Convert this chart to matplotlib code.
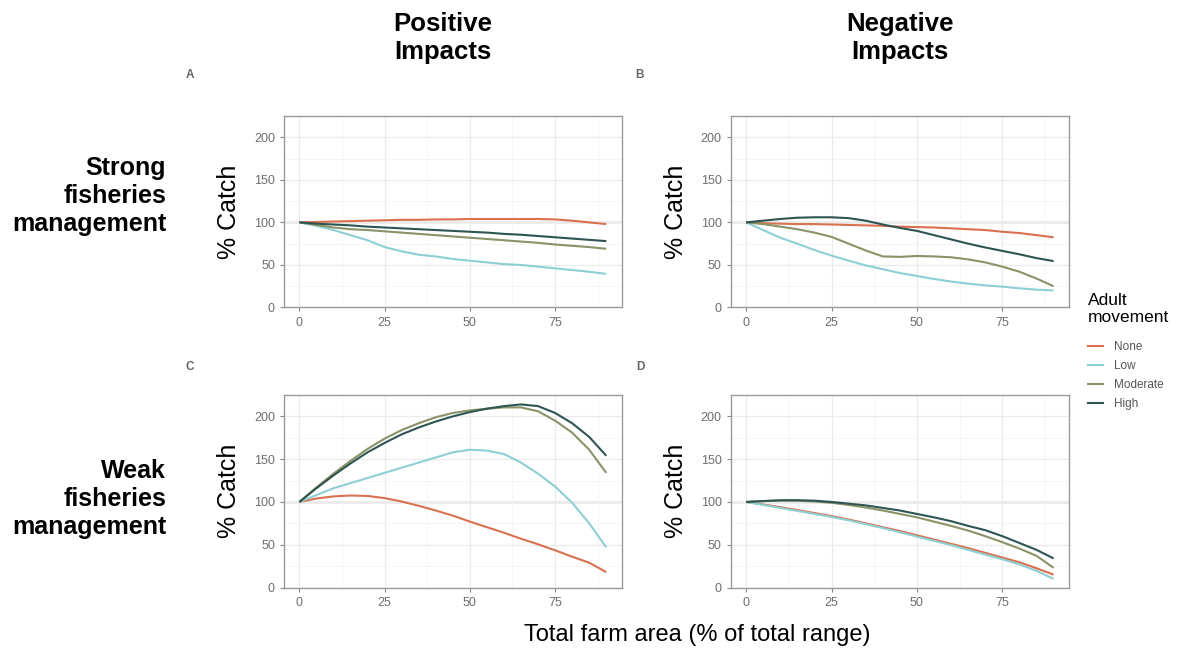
import numpy as np
import matplotlib
matplotlib.use('Agg')
import matplotlib.pyplot as plt
from matplotlib.lines import Line2D

plt.rcParams['font.family'] = ['Liberation Sans', 'DejaVu Sans']

# farm area (% of total range)
farm_area = [0, 5, 10, 15, 20, 25, 30, 35, 40, 45, 50, 55, 60, 65, 70, 75, 80, 85, 90]

movement = ['None', 'Low', 'Moderate', 'High']
colors = ['#D9704F', '#8ECFD4', '#8A9268', '#2E5551']

# A: strong management, positive impacts
a_none = [100, 100.5, 101, 101.5, 102, 102.5, 103, 103, 103.5, 103.5, 104, 104, 104, 104, 104, 103.5, 102, 100, 98]
a_low = [100, 96, 91, 85, 79, 71, 66, 62, 60, 57, 55, 53, 51, 50, 48, 46, 44, 42, 39.5]
a_mod = [100, 97, 94, 92, 91, 89.5, 88, 86.5, 85, 83.5, 82, 80.5, 79, 77.5, 76, 74, 72.5, 71, 69]
a_high = [100, 98.5, 97.5, 96.5, 95, 94, 93, 92, 91, 90, 89, 88, 86.5, 85.5, 84, 82.5, 81, 79.5, 78]

# B: strong management, negative impacts
b_none = [100, 99, 98.5, 98, 98, 97.5, 97, 96.5, 96, 95, 94.5, 94, 93, 92, 91, 89, 87.5, 85, 82.5]
b_low = [100, 91, 82, 75, 67.5, 61, 55, 49.5, 45, 40.5, 37, 33.5, 30.5, 28, 26, 24.5, 22.5, 21, 20]
b_mod = [100, 98, 95, 92, 88, 83, 75, 67, 60, 59.5, 60.5, 60, 59, 56.5, 53, 48, 42, 34, 25]
b_high = [100, 102, 104, 105.5, 106, 106, 105, 102, 97.5, 93.5, 90, 85, 80, 75, 70.5, 66.5, 62.5, 58, 54.5]

# C: weak management, positive impacts
c_none = [100, 104, 106.5, 107.5, 107, 104.5, 100.5, 95.5, 90, 84, 77, 70.5, 64, 57, 50.5, 43.5, 36, 29, 18]
c_low = [100, 108, 116, 122, 128, 134, 140, 146, 152, 158, 161, 160, 156, 146, 133, 118, 99, 75, 47]
c_mod = [100, 117, 133, 148, 162, 174, 184, 192, 199, 204, 207, 209, 210.5, 210.5, 206, 195, 181, 161, 134]
c_high = [100, 116, 131, 145, 158, 169, 179, 187, 194, 200, 205, 209, 212, 214, 212, 204, 192, 176, 154]

# D: weak management, negative impacts
d_none = [100, 97, 94, 90.5, 87, 83.5, 79.5, 75, 70.5, 66, 61, 56, 51, 46, 40.5, 35, 29.5, 22.5, 15]
d_low = [100, 96.5, 93, 89.5, 86, 82.5, 78.5, 74, 69.5, 64.5, 59.5, 54.5, 49.5, 44, 38.5, 33, 27, 19.5, 10]
d_mod = [100, 101, 101.5, 101.5, 100.5, 99, 96.5, 93.5, 90, 86, 82, 77, 72, 66.5, 60, 53, 45.5, 37, 23]
d_high = [100, 101, 102, 102, 101.5, 100, 98, 96, 93, 90, 86, 82, 77.5, 72, 67, 60, 52, 44, 34]

panels = {
    'A': [a_none, a_low, a_mod, a_high],
    'B': [b_none, b_low, b_mod, b_high],
    'C': [c_none, c_low, c_mod, c_high],
    'D': [d_none, d_low, d_mod, d_high],
}

W, H = 1181, 655
fig = plt.figure(figsize=(W / 100, H / 100), dpi=100)

def px(x, y):
    return x / W, 1 - y / H

# panel boxes in pixels: left, top, right, bottom
boxes = {
    'A': (284, 116, 621.6, 307.5),
    'B': (730.7, 116, 1069, 307.5),
    'C': (284, 395, 621.6, 587.5),
    'D': (730.7, 395, 1069, 587.5),
}

for key, series in panels.items():
    l, t, r, b = boxes[key]
    ax = fig.add_axes([l / W, 1 - b / H, (r - l) / W, (b - t) / H])
    ax.set_xlim(-4.5, 94.5)
    ax.set_ylim(0, 225)
    ax.set_xticks([0, 25, 50, 75])
    ax.set_yticks([0, 50, 100, 150, 200])
    ax.set_xticks([12.5, 37.5, 62.5, 87.5], minor=True)
    ax.set_yticks([25, 75, 125, 175, 225], minor=True)
    ax.grid(True, which='major', color='#EBEBEB', lw=0.9, zorder=0)
    ax.grid(True, which='minor', color='#F4F4F4', lw=0.6, zorder=0)
    ax.tick_params(which='major', length=3, color='#888888', width=0.8,
                   labelsize=9, labelcolor='#6E6E6E', pad=3.5)
    ax.tick_params(which='minor', length=0)
    for s in ax.spines.values():
        s.set_color('#9A9A9A')
        s.set_linewidth(1.0)
    ax.axhline(100, color='#A8A8A8', lw=1.0, zorder=1)
    for vals, c in zip(series, colors):
        ax.plot(farm_area, vals, color=c, lw=1.5, zorder=3, solid_capstyle='butt')
    ax.set_ylabel('% Catch', fontsize=18, labelpad=9)

# panel letters
for key, (x, y) in {'A': (190, 75), 'B': (640, 75), 'C': (190, 367), 'D': (640, 367)}.items():
    fig.text(*px(x, y), key, fontsize=8.5, fontweight='bold', color='#666666',
             ha='center', va='center')

# column headers
fig.text(*px(443, 38), 'Positive\nImpacts', fontsize=18.5, fontweight='bold',
         ha='center', va='center', linespacing=1.22)
fig.text(*px(900, 38), 'Negative\nImpacts', fontsize=18.5, fontweight='bold',
         ha='center', va='center', linespacing=1.22)

# row headers
fig.text(*px(166, 196), 'Strong\nfisheries\nmanagement', fontsize=18, fontweight='bold',
         ha='right', va='center', linespacing=1.22)
fig.text(*px(166, 499), 'Weak\nfisheries\nmanagement', fontsize=18, fontweight='bold',
         ha='right', va='center', linespacing=1.22)

# x label
fig.text(*px(697, 635), 'Total farm area (% of total range)', fontsize=17,
         ha='center', va='center')

# legend (title drawn separately for spacing control)
fig.text(*px(1088, 309), 'Adult\nmovement', fontsize=12.5, ha='left', va='center',
         linespacing=1.15)
handles = [Line2D([0], [0], color=c, lw=1.5) for c in colors]
leg = fig.legend(handles, movement, loc='upper left', bbox_to_anchor=px(1088, 341),
                 frameon=False, fontsize=8.5, borderpad=0, borderaxespad=0,
                 handlelength=1.3, handletextpad=0.9, labelspacing=0.6)
for txt in leg.get_texts():
    txt.set_color('#555555')

fig.savefig('out.png', dpi=100)
